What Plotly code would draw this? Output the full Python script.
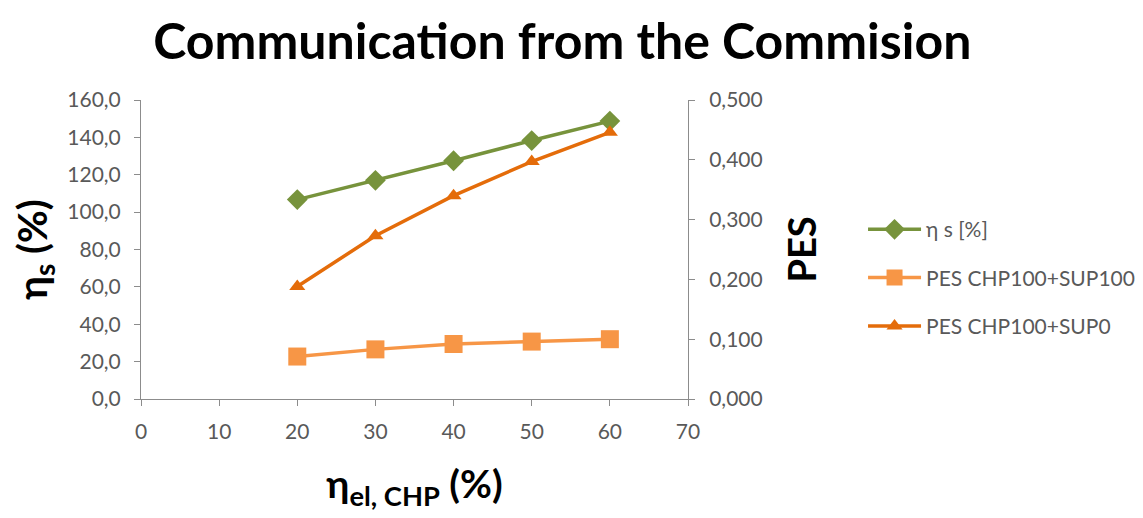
import plotly.graph_objects as go

x_vals = [20, 30, 40, 50, 60]
eta_s = [106.7, 117.0, 127.5, 138.3, 148.7]
pes_sup100 = [0.071, 0.083, 0.092, 0.096, 0.100]
pes_sup0 = [0.188, 0.273, 0.340, 0.397, 0.446]

names = ["η s [%]", "PES CHP100+SUP100", "PES CHP100+SUP0"]

FONT = "Lato, 'Open Sans', sans-serif"
GRAY = "#595959"
AX = "#8c8c8c"
TICK = 21

fig = go.Figure()
fig.add_trace(go.Scatter(x=x_vals, y=eta_s, name=names[0], mode="lines+markers", legendgroup="g1",
                         line=dict(color="#77933C", width=3.5),
                         marker=dict(symbol="diamond", size=16, color="#77933C")))
fig.add_trace(go.Scatter(x=x_vals, y=pes_sup100, name=names[1], mode="lines+markers", yaxis="y2",
                         legendgroup="g2",
                         line=dict(color="#F79646", width=3.5),
                         marker=dict(symbol="square", size=18, color="#F79646")))
fig.add_trace(go.Scatter(x=x_vals, y=pes_sup0, name=names[2], mode="lines+markers", yaxis="y2",
                         legendgroup="g3",
                         line=dict(color="#E46C0A", width=3.5),
                         marker=dict(symbol="triangle-up", size=14, color="#E46C0A")))

fig.update_layout(
    width=1143, height=518,
    separators=", ",
    paper_bgcolor="white", plot_bgcolor="white",
    margin=dict(l=133, r=1143 - 680, t=92, b=518 - 391, autoexpand=False),
    font=dict(family=FONT, color=GRAY, size=TICK),
    title=dict(text="<b>Communication from the Commision</b>", x=0.485, xanchor="center",
               y=0.935, yanchor="middle", font=dict(size=50, color="black", family=FONT)),
    xaxis=dict(range=[0, 70], tickvals=[0, 10, 20, 30, 40, 50, 60, 70], showgrid=False, zeroline=False,
               showline=True, linecolor=AX, linewidth=1, ticks="outside", ticklen=6, tickcolor=AX,
               tickfont=dict(size=TICK, color=GRAY), automargin=False, ticklabelstandoff=8,
               title=dict(text="<b>η<sub>el, CHP</sub> (%)</b>", font=dict(size=39, color="black"), standoff=28)),
    yaxis=dict(range=[0, 160], tickvals=[0, 20, 40, 60, 80, 100, 120, 140, 160], tickformat=".1f",
               showgrid=False, zeroline=False, showline=True, linecolor=AX, linewidth=1, automargin=False,
               ticks="outside", ticklen=6, tickcolor=AX, tickfont=dict(size=TICK, color=GRAY),
               ticklabelstandoff=9,
               title=dict(text="<b>η<sub>s</sub> (%)</b>", font=dict(size=40, color="black"), standoff=10)),
    yaxis2=dict(range=[0, 0.5], tickvals=[0, 0.1, 0.2, 0.3, 0.4, 0.5], tickformat=".3f", overlaying="y",
                side="right", showgrid=False, zeroline=False, showline=True, linecolor=AX, linewidth=1,
                automargin=False, ticklabelstandoff=10,
                ticks="outside", ticklen=6, tickcolor=AX, tickfont=dict(size=TICK, color=GRAY),
                title=dict(text="<b>PES</b>", font=dict(size=38, color="black"), standoff=27)),
    legend=dict(x=1.32, y=0.635, xanchor="left", yanchor="top", tracegroupgap=18, itemwidth=53,
                font=dict(size=21, color=GRAY), bgcolor="rgba(0,0,0,0)"),
    showlegend=True,
)

fig.write_html("out.html")
